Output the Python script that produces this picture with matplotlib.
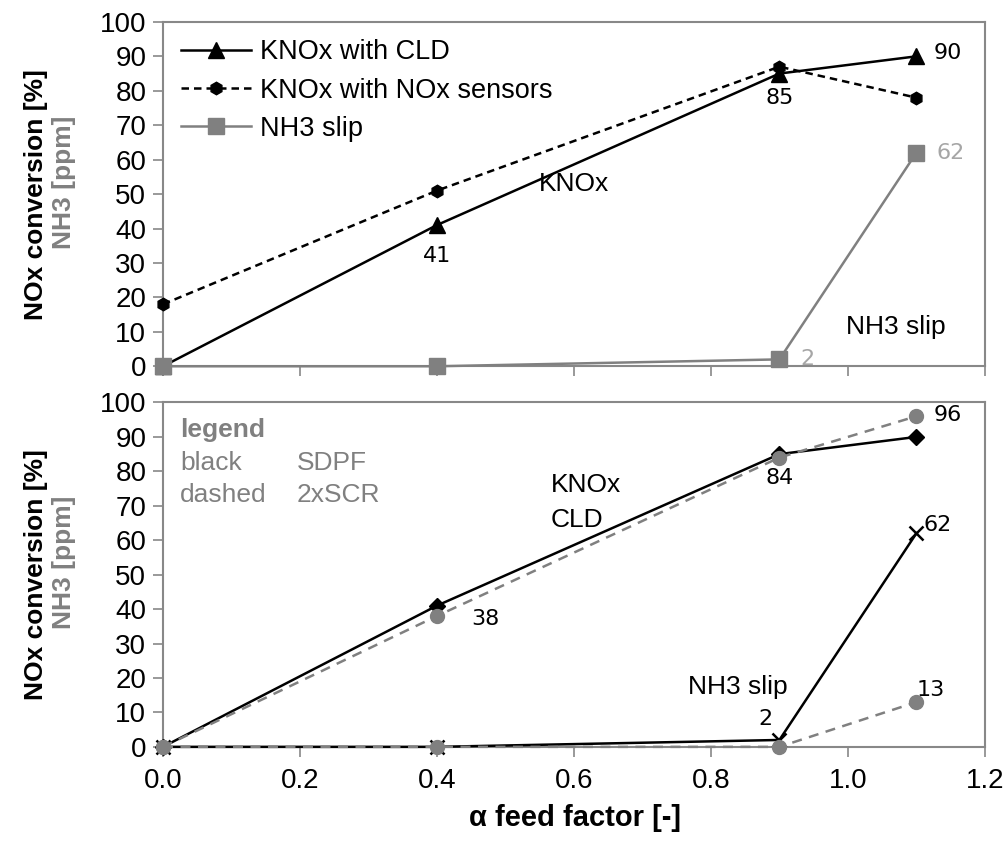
import matplotlib
matplotlib.use('Agg')
import matplotlib.pyplot as plt

plt.rcParams['font.family'] = ['Liberation Sans', 'DejaVu Sans']

# alpha feed factor
alpha = [0.0, 0.4, 0.9, 1.1]

# upper panel
knox_cld = [0, 41, 85, 90]
knox_sensors = [18, 51, 87, 78]
nh3_slip = [0, 0, 2, 62]

# lower panel: SDPF (black) vs 2xSCR (dashed)
knox_sdpf = [0, 41, 85, 90]
knox_2xscr = [0, 38, 84, 96]
nh3_sdpf = [0, 0, 2, 62]
nh3_2xscr = [0, 0, 0, 13]

yticks = list(range(0, 101, 10))
xticks = [0.0, 0.2, 0.4, 0.6, 0.8, 1.0, 1.2]

gray = '#808080'
lgray = '#a6a6a6'
frame = '#888888'

fig = plt.figure(figsize=(10.06, 8.42), dpi=100)
ax1 = fig.add_axes([0.162, 0.565, 0.817, 0.409])
ax2 = fig.add_axes([0.162, 0.113, 0.817, 0.409])

for ax in (ax1, ax2):
    ax.set_xlim(0, 1.2)
    ax.set_ylim(0, 100)
    ax.set_xticks(xticks)
    ax.set_yticks(yticks)
    for s in ax.spines.values():
        s.set_color(frame)
        s.set_linewidth(1.5)
    ax.tick_params(direction='out', length=7, width=1.2, color=frame,
                   labelsize=20, pad=5)

ax1.tick_params(axis='x', labelbottom=False)
ax2.tick_params(axis='x', pad=8)
ax2.set_xticklabels(['%.1f' % t for t in xticks])

# --- upper panel ---
ax1.plot(alpha, knox_cld, color='black', lw=1.8, marker='^', ms=11,
         label='KNOx with CLD', zorder=4, clip_on=False)
ax1.plot(alpha, knox_sensors, color='black', lw=1.8, ls=(0, (3, 2)),
         marker='h', ms=9, label='KNOx with NOx sensors', zorder=4, clip_on=False)
ax1.plot(alpha, nh3_slip, color=gray, lw=1.8, marker='s', ms=11,
         label='NH3 slip', zorder=5, clip_on=False)

ax1.legend(loc='upper left', frameon=False, fontsize=19.5,
           handlelength=2.6, borderaxespad=0.25, labelspacing=0.45,
           handletextpad=0.35)

ax1.text(alpha[1], knox_cld[1] - 9, str(knox_cld[1]), fontsize=16,
         ha='center', va='center', family='DejaVu Sans')
ax1.text(alpha[2], knox_cld[2] - 7, str(knox_cld[2]), fontsize=16,
         ha='center', va='center', family='DejaVu Sans')
ax1.text(alpha[3] + 0.025, knox_cld[3] + 1, str(knox_cld[3]), fontsize=16,
         ha='left', va='center', family='DejaVu Sans')
ax1.text(alpha[3] + 0.03, nh3_slip[3], str(nh3_slip[3]), fontsize=16,
         ha='left', va='center', color=lgray, family='DejaVu Sans')
ax1.text(alpha[2] + 0.03, nh3_slip[2], str(nh3_slip[2]), fontsize=16,
         ha='left', va='center', color=lgray, family='DejaVu Sans')
ax1.text(0.6, 53, 'KNOx', fontsize=19, ha='center', va='center')
ax1.text(1.07, 11.5, 'NH3 slip', fontsize=19, ha='center', va='center')

# --- lower panel ---
ax2.plot(alpha, knox_sdpf, color='black', lw=1.8, marker='D', ms=8,
         zorder=4, clip_on=False)
ax2.plot(alpha, nh3_sdpf, color='black', lw=1.8, marker='x', ms=10,
         mew=1.8, zorder=4, clip_on=False)
ax2.plot(alpha, knox_2xscr, color=gray, lw=1.8, ls=(0, (4, 3)),
         marker='o', ms=10, zorder=5, clip_on=False)
ax2.plot(alpha, nh3_2xscr, color=gray, lw=1.8, ls=(0, (4, 3)),
         marker='o', ms=10, zorder=5, clip_on=False)

ax2.text(alpha[1] + 0.05, knox_2xscr[1] - 1, str(knox_2xscr[1]), fontsize=16,
         ha='left', va='center', family='DejaVu Sans')
ax2.text(alpha[2], knox_2xscr[2] - 6, str(knox_2xscr[2]), fontsize=16,
         ha='center', va='center', family='DejaVu Sans')
ax2.text(alpha[3] + 0.025, knox_2xscr[3] + 0.5, str(knox_2xscr[3]), fontsize=16,
         ha='left', va='center', family='DejaVu Sans')
ax2.text(alpha[3] + 0.01, nh3_sdpf[3] + 2.5, str(nh3_sdpf[3]), fontsize=16,
         ha='left', va='center', family='DejaVu Sans')
ax2.text(alpha[3] + 0.0, nh3_2xscr[3] + 3.5, str(nh3_2xscr[3]), fontsize=16,
         ha='left', va='center', family='DejaVu Sans')
ax2.text(alpha[2] - 0.01, nh3_sdpf[2] + 6, str(nh3_sdpf[2]), fontsize=16,
         ha='right', va='center', family='DejaVu Sans')

ax2.text(0.566, 76, 'KNOx', fontsize=19, ha='left', va='center')
ax2.text(0.566, 66, 'CLD', fontsize=19, ha='left', va='center')
ax2.text(0.767, 17.5, 'NH3 slip', fontsize=19, ha='left', va='center')

ax2.text(0.025, 92, 'legend', fontsize=19, color=gray, weight='bold',
         ha='left', va='center')
ax2.text(0.025, 82.5, 'black', fontsize=19, color=gray, ha='left', va='center')
ax2.text(0.195, 82.5, 'SDPF', fontsize=19, color=gray, ha='left', va='center')
ax2.text(0.025, 73, 'dashed', fontsize=19, color=gray, ha='left', va='center')
ax2.text(0.195, 73, '2xSCR', fontsize=19, color=gray, ha='left', va='center')

# y axis titles: two lines, second one in gray
for ax in (ax1, ax2):
    ax.text(-0.155, 0.5, 'NOx conversion [%]', transform=ax.transAxes,
            rotation=90, fontsize=19, weight='bold', ha='center', va='center')
    ax.text(-0.120, 0.535, 'NH3 [ppm]', transform=ax.transAxes,
            rotation=90, fontsize=19, weight='bold', color=gray,
            ha='center', va='center')

fig.text(0.572, 0.012, 'α feed factor [-]', fontsize=21, weight='bold',
         ha='center', va='bottom')

fig.savefig('out.png', dpi=100)
